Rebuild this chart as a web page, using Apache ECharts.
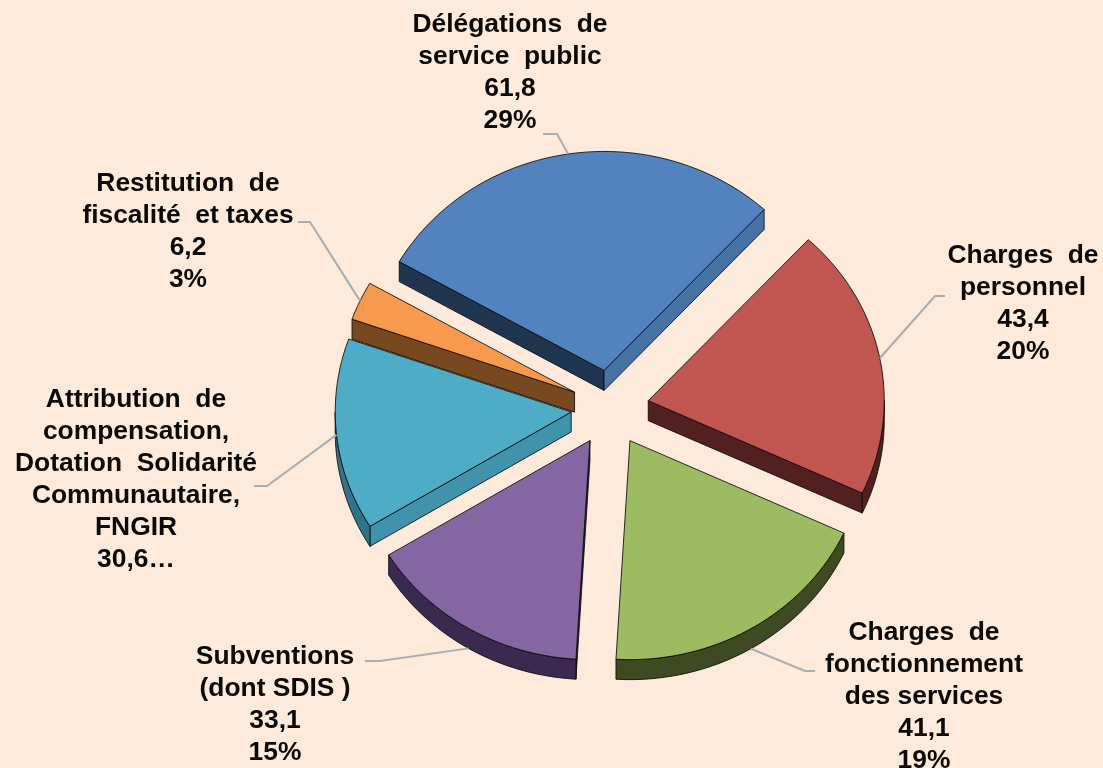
<!DOCTYPE html>
<html>
<head>
<meta charset="utf-8">
<style>html,body{margin:0;padding:0;background:#FDEADA}#c{width:1103px;height:768px}</style>
<script src="https://cdn.jsdelivr.net/npm/echarts@6/dist/echarts.min.js"></script>
</head>
<body>
<div id="c"></div>
<script>
// Data
var categories = [
  'Charges  de\npersonnel',
  'Charges  de\nfonctionnement\ndes services',
  'Subventions\n(dont SDIS )',
  'Attribution  de\ncompensation,\nDotation  Solidarité\nCommunautaire,\nFNGIR',
  'Restitution  de\nfiscalité  et taxes',
  'Délégations  de\nservice  public'
];
var values = [43.4, 41.1, 33.1, 30.6, 6.2, 61.8];
var valueLabels = ['43,4', '41,1', '33,1', '30,6…', '6,2', '61,8'];
var percentLabels = ['20%', '19%', '15%', '', '3%', '29%'];

// Styles and layout
var topColors = ['#C05552', '#9DBB61', '#8566A2', '#4FACC6', '#F79A4D', '#5383BE'];
var startWallColors = ['#52201F', '#3E4A22', '#2E2140', '#4193AB', '#784820', '#1F3550'];
var endWallColors = ['#52201F', '#3E4A22', '#2E2140', '#30748A', '#784820', '#4672A6'];
var arcWallColors = ['#52201F', '#3E4A22', '#3A2A50', '#30748A', '#784820', '#1F3550'];
var labelCentreX = [1023, 924, 275, 136, 188, 510];
var labelTopY = [238, 615, 639, 382, 166, 7];
var leaderElbows = [[[945, 296], [935, 296]], [[815, 671], [805, 671]], [[365, 661], [380, 661]],
                    [[254, 486], [267, 486]], [[298, 222], [310, 222]], [[543, 134], [557, 134]]];
var pie = { cx: 610, cy: 408, rx: 236, ry: 219, depth: 20, explodeX: 39, explodeY: 38, startAngle: 42.7 };

var total = values.reduce(function (a, b) { return a + b; }, 0);
var EDGE = 'rgba(10,10,10,0.85)';

function renderSlice(params, api) {
  var i = params.dataIndex;
  var before = 0;
  for (var k = 0; k < i; k++) before += values[k];
  var t1 = pie.startAngle + before / total * 360;
  var t2 = t1 + api.value(1) / total * 360;
  var mid = (t1 + t2) / 2;
  var rad = function (d) { return d * Math.PI / 180; };
  var ax = pie.cx + pie.explodeX * Math.sin(rad(mid));
  var ay = pie.cy - pie.explodeY * Math.cos(rad(mid));
  var pt = function (d, drop) {
    return [ax + pie.rx * Math.sin(rad(d)), ay - pie.ry * Math.cos(rad(d)) + (drop || 0)];
  };
  var arc = function (from, to, drop) {
    var out = [], n = Math.max(2, Math.ceil((to - from) / 2));
    for (var j = 0; j <= n; j++) out.push(pt(from + (to - from) * j / n, drop));
    return out;
  };
  var poly = function (points, fill) {
    return { type: 'polygon', shape: { points: points },
             style: { fill: fill, stroke: EDGE, lineWidth: 1, lineJoin: 'round' } };
  };
  var apexDown = [ax, ay + pie.depth], apex = [ax, ay];
  var children = [];
  // radial wall on the start edge
  if (Math.sin(rad(t1)) < 0) {
    children.push(poly([apex, pt(t1), pt(t1, pie.depth), apexDown], startWallColors[i]));
  }
  // radial wall on the end edge
  if (Math.sin(rad(t2)) > 0) {
    children.push(poly([apex, pt(t2), pt(t2, pie.depth), apexDown], endWallColors[i]));
  }
  // outer wall, lower half of the ellipse
  var lo = Math.max(t1, 90), hi = Math.min(t2, 270);
  if (hi > lo) {
    children.push(poly(arc(lo, hi, 0).concat(arc(lo, hi, pie.depth).reverse()), arcWallColors[i]));
  }
  // top face
  children.push(poly([apex].concat(arc(t1, t2, 0)), topColors[i]));

  // leader line
  var drop = Math.cos(rad(mid)) < -0.5 ? pie.depth : 0;
  children.push({ type: 'polyline', z2: 5,
    shape: { points: leaderElbows[i].concat([pt(mid, drop)]) },
    style: { fill: null, stroke: '#A9ADB0', lineWidth: 2 } });

  // label
  var lines = [api.value(0), valueLabels[i]];
  if (percentLabels[i]) lines.push(percentLabels[i]);
  children.push({ type: 'text', z2: 6, x: labelCentreX[i], y: labelTopY[i] + 1.5,
    style: { text: lines.join('\n'), align: 'center', verticalAlign: 'top',
             font: 'bold 26.4px "Liberation Sans", Arial, sans-serif', lineHeight: 32, fill: '#0a0a0a' } });
  return { type: 'group', children: children };
}

var chart = echarts.init(document.getElementById('c'), null, { renderer: 'canvas' });
chart.setOption({
  animation: false,
  backgroundColor: '#FDEADA',
  series: [{
    type: 'custom',
    coordinateSystem: 'none',
    renderItem: renderSlice,
    dimensions: ['name', 'value'],
    encode: { itemName: 0, value: 1 },
    data: categories.map(function (c, i) { return [c, values[i]]; })
  }]
});
</script>
</body>
</html>
